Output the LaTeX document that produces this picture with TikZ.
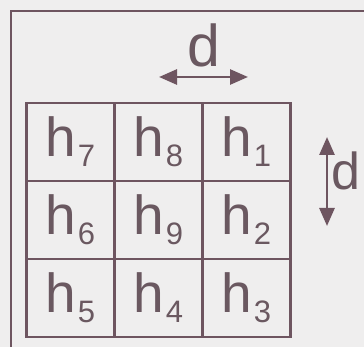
\documentclass[tikz,border=0pt]{standalone}
\usepackage{fontspec}
\setmainfont{Liberation Sans}
\usetikzlibrary{arrows.meta,positioning}
\definecolor{inkline}{HTML}{6E5560}
\definecolor{inktext}{HTML}{6A5860}
\definecolor{paper}{HTML}{EFEEEE}
\newcommand{\hsub}[1]{h\kern1.5pt\raisebox{-10pt}{\fontsize{31}{31}\selectfont #1}}

\begin{document}
\begin{tikzpicture}[x=1pt, y=-1pt, >={Triangle[length=18pt,width=15pt]}]
  \tikzstyle{cell}=[draw=inkline, line width=2.2pt, minimum width=88pt, minimum height=78pt, inner sep=0pt, outer sep=0pt, text=inktext, font=\fontsize{55}{55}\selectfont]
  \tikzstyle{dlabel}=[text=inktext, inner sep=0pt]
  \fill[paper] (0,0) rectangle (364,347);
  \useasboundingbox (0,0) rectangle (364,347);
  % open frame of the page
  \draw[inkline, line width=2pt] (366,11) -| (11,349);

  \node[cell] (c7) at (70.5,142) {\hsub{7}};
  \node[cell, right=0pt of c7] (c8) {\hsub{8}};
  \node[cell, right=0pt of c8] (c1) {\hsub{1}};
  \node[cell, below=0pt of c7] (c6) {\hsub{6}};
  \node[cell, right=0pt of c6] (c9) {\hsub{9}};
  \node[cell, right=0pt of c9] (c2) {\hsub{2}};
  \node[cell, below=0pt of c6] (c5) {\hsub{5}};
  \node[cell, right=0pt of c5] (c4) {\hsub{4}};
  \node[cell, right=0pt of c4] (c3) {\hsub{3}};

  \coordinate (hl) at (159,77);
  \coordinate (hr) at (248,77);
  \draw[<->, inkline, line width=2.8pt] (hl) -- (hr);
  \node[dlabel, font=\fontsize{59}{59}\selectfont, anchor=base] (dh) at (203.5,67) {d};

  \coordinate (vt) at (327,137);
  \coordinate (vb) at (327,226);
  \draw[<->, inkline, line width=2.8pt] (vt) -- (vb);
  \node[dlabel, font=\fontsize{52}{52}\selectfont, anchor=base west] (dv) at (331,190) {d};
\end{tikzpicture}
\end{document}
